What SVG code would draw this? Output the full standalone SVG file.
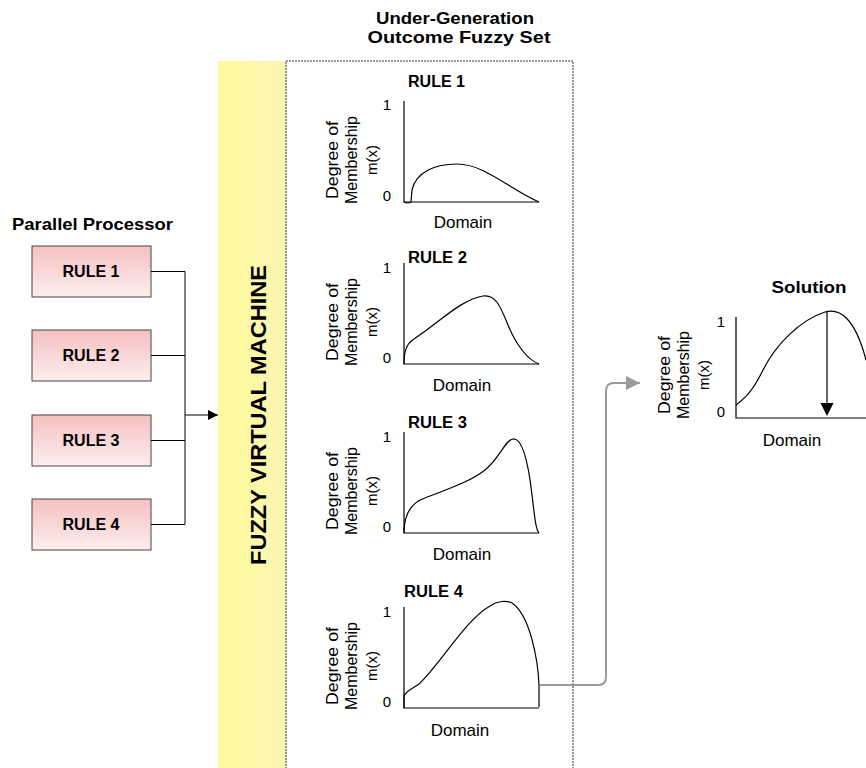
<svg xmlns="http://www.w3.org/2000/svg" width="866" height="768" viewBox="0 0 866 768">
<style>
text{font-family:"Liberation Sans",Arial,sans-serif;fill:#000}
.b{font-weight:bold}
.t{font-size:17px;font-weight:bold}
.rl{font-size:16px;font-weight:bold}
.lbl{font-size:16px}
.dom{font-size:17px}
.sm{font-size:15px}
.ax{fill:none;stroke:#000;stroke-width:1.2}
.cv{fill:none;stroke:#000;stroke-width:1.2}
.box{fill:url(#pink);stroke:#444;stroke-width:1}
.con{fill:none;stroke:#000;stroke-width:1}
</style>
<defs>
<linearGradient id="pink" x1="0" y1="0" x2="0" y2="1">
<stop offset="0" stop-color="#F5C0C0"/>
<stop offset="1" stop-color="#FDEEEE"/>
</linearGradient>
<linearGradient id="yel" x1="0" y1="0" x2="1" y2="0">
<stop offset="0" stop-color="#FFFB9C"/>
<stop offset="1" stop-color="#FAF5B2"/>
</linearGradient>
<marker id="ah" viewBox="0 0 10 10" refX="10" refY="5" markerWidth="10" markerHeight="10" markerUnits="userSpaceOnUse" orient="auto">
<path d="M0,0 L10,5 L0,10 z" fill="#000"/>
</marker>
<marker id="ahg" viewBox="0 0 12 12" refX="12" refY="6" markerWidth="14" markerHeight="14" markerUnits="userSpaceOnUse" orient="auto">
<path d="M0,0 L12,6 L0,12 z" fill="#9a9a9a"/>
</marker>
</defs>
<rect width="866" height="768" fill="#fff"/>

<!-- titles -->
<text class="t" x="455" y="24" text-anchor="middle" textLength="158" lengthAdjust="spacingAndGlyphs">Under-Generation</text>
<text class="t" x="459" y="43" text-anchor="middle" textLength="183" lengthAdjust="spacingAndGlyphs">Outcome Fuzzy Set</text>
<text class="t" x="12" y="230" textLength="161" lengthAdjust="spacingAndGlyphs">Parallel Processor</text>

<!-- FVM bar -->
<g id="fvm">
<rect x="218" y="61" width="68" height="707" fill="url(#yel)"/>
<text class="b" font-size="22" transform="translate(266,415) rotate(-90)" text-anchor="middle" textLength="300" lengthAdjust="spacingAndGlyphs">FUZZY VIRTUAL MACHINE</text>
</g>

<!-- dashed outcome box -->
<path d="M286,775 V61 H573 V775" fill="none" stroke="#333" stroke-width="1" stroke-dasharray="2,1"/>

<!-- rule boxes -->
<g id="r1"><rect class="box" x="32" y="246" width="119" height="51"/><text class="rl" x="91" y="277" text-anchor="middle" textLength="57" lengthAdjust="spacingAndGlyphs">RULE 1</text></g>
<g id="r2"><rect class="box" x="32" y="330" width="119" height="51"/><text class="rl" x="91" y="361" text-anchor="middle" textLength="57" lengthAdjust="spacingAndGlyphs">RULE 2</text></g>
<g id="r3"><rect class="box" x="32" y="415" width="119" height="51"/><text class="rl" x="91" y="446" text-anchor="middle" textLength="57" lengthAdjust="spacingAndGlyphs">RULE 3</text></g>
<g id="r4"><rect class="box" x="32" y="499" width="119" height="51"/><text class="rl" x="91" y="530" text-anchor="middle" textLength="57" lengthAdjust="spacingAndGlyphs">RULE 4</text></g>

<!-- connectors -->
<g id="connectors">
<path class="con" d="M151,271.5 H185 M151,355.5 H185 M151,440.5 H185 M151,524.5 H185 M185,271.5 V524.5"/>
<path class="con" d="M185,415 H218" marker-end="url(#ah)"/>
<path d="M540,685 H598 Q606,685 606,677 V391 Q606,383 614,383 H640" fill="none" stroke="#9a9a9a" stroke-width="2" marker-end="url(#ahg)"/>
</g>

<!-- Chart 1 -->
<g id="c1">
<text class="rl" x="408" y="87" textLength="57" lengthAdjust="spacingAndGlyphs">RULE 1</text>
<path class="ax" d="M404,101 V202 H539"/>
<text class="sm" x="387" y="110" text-anchor="middle">1</text>
<text class="sm" x="387" y="201" text-anchor="middle">0</text>
<text class="lbl" transform="translate(338,160) rotate(-90)" text-anchor="middle" textLength="78" lengthAdjust="spacingAndGlyphs">Degree of</text>
<text class="lbl" transform="translate(357,160) rotate(-90)" text-anchor="middle">Membership</text>
<text class="sm" transform="translate(377,160) rotate(-90)" text-anchor="middle">m(x)</text>
<text class="dom" x="463" y="228" text-anchor="middle">Domain</text>
<path class="cv" d="M404,202 Q408,204 411,202 L412,190 C416,172 435,164 457,164 C485,164 510,190 539,202"/>
</g>

<!-- Chart 2 -->
<g id="c2">
<text class="rl" x="408" y="263" textLength="59" lengthAdjust="spacingAndGlyphs">RULE 2</text>
<path class="ax" d="M404,263 V364 H539"/>
<text class="sm" x="387" y="273" text-anchor="middle">1</text>
<text class="sm" x="387" y="363" text-anchor="middle">0</text>
<text class="lbl" transform="translate(338,322) rotate(-90)" text-anchor="middle" textLength="78" lengthAdjust="spacingAndGlyphs">Degree of</text>
<text class="lbl" transform="translate(357,322) rotate(-90)" text-anchor="middle">Membership</text>
<text class="sm" transform="translate(377,322) rotate(-90)" text-anchor="middle">m(x)</text>
<text class="dom" x="462" y="391" text-anchor="middle">Domain</text>
<path class="cv" d="M404,364 C404,352 406,344 414,339 C440,322 460,300 483,296 C495,294 500,305 508,325 C516,345 528,360 539,364"/>
</g>

<!-- Chart 3 -->
<g id="c3">
<text class="rl" x="408" y="428" textLength="59" lengthAdjust="spacingAndGlyphs">RULE 3</text>
<path class="ax" d="M404,432 V533 H539"/>
<text class="sm" x="387" y="442" text-anchor="middle">1</text>
<text class="sm" x="387" y="532" text-anchor="middle">0</text>
<text class="lbl" transform="translate(338,491) rotate(-90)" text-anchor="middle" textLength="78" lengthAdjust="spacingAndGlyphs">Degree of</text>
<text class="lbl" transform="translate(357,491) rotate(-90)" text-anchor="middle">Membership</text>
<text class="sm" transform="translate(377,491) rotate(-90)" text-anchor="middle">m(x)</text>
<text class="dom" x="462" y="560" text-anchor="middle">Domain</text>
<path class="cv" d="M404,533 C404,515 410,503 425,498 C445,490 470,482 485,470 C500,458 505,440 513,439 C522,438 528,460 532,495 C535,520 536,530 539,533"/>
</g>

<!-- Chart 4 -->
<g id="c4">
<text class="rl" x="404" y="597" textLength="59" lengthAdjust="spacingAndGlyphs">RULE 4</text>
<path class="ax" d="M404,607 V708 H539"/>
<text class="sm" x="387" y="617" text-anchor="middle">1</text>
<text class="sm" x="387" y="707" text-anchor="middle">0</text>
<text class="lbl" transform="translate(338,666) rotate(-90)" text-anchor="middle" textLength="78" lengthAdjust="spacingAndGlyphs">Degree of</text>
<text class="lbl" transform="translate(357,666) rotate(-90)" text-anchor="middle">Membership</text>
<text class="sm" transform="translate(377,666) rotate(-90)" text-anchor="middle">m(x)</text>
<text class="dom" x="460" y="736" text-anchor="middle">Domain</text>
<path class="cv" d="M404,708 L404,696 C407,690 414,688 419,684 C440,665 465,620 490,606 C497,601 506,600 512,603 C530,615 538,660 539,685 L539,707"/>
</g>

<!-- Solution -->
<g id="solution">
<text class="t" x="809" y="293" text-anchor="middle" textLength="75" lengthAdjust="spacingAndGlyphs">Solution</text>
<path class="ax" d="M736,317 V418 H870"/>
<text class="sm" x="721" y="327" text-anchor="middle">1</text>
<text class="sm" x="721" y="417" text-anchor="middle">0</text>
<text class="lbl" transform="translate(670,375) rotate(-90)" text-anchor="middle" textLength="78" lengthAdjust="spacingAndGlyphs">Degree of</text>
<text class="lbl" transform="translate(689,375) rotate(-90)" text-anchor="middle">Membership</text>
<text class="sm" transform="translate(709,375) rotate(-90)" text-anchor="middle">m(x)</text>
<text class="dom" x="792" y="446" text-anchor="middle">Domain</text>
<path class="cv" d="M736,405 C745,398 752,392 762,372 C775,345 800,320 825,312 C840,308 855,318 866,360"/>
<path d="M827,312 V404" stroke="#000" stroke-width="1.2"/>
<path d="M820.5,403 H833.5 L827,416 z" fill="#000"/>
</g>
</svg>
